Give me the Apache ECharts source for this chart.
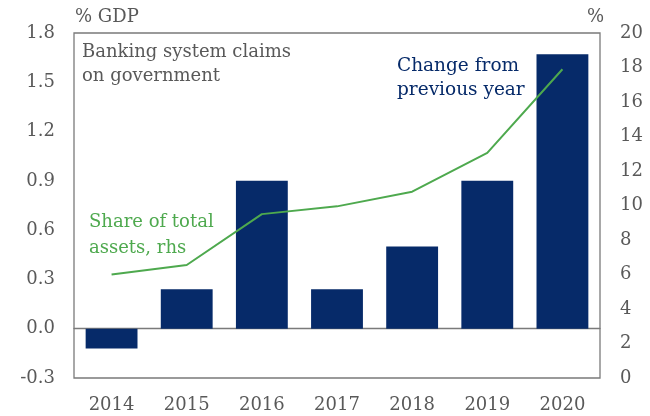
<!DOCTYPE html>
<html>
<head>
<meta charset="utf-8">
<script src="https://cdn.jsdelivr.net/npm/echarts@6/dist/echarts.min.js"></script>
<style>
  html, body { margin: 0; padding: 0; background: #fff; }
  #chart { width: 650px; height: 416px; }
</style>
</head>
<body>
<div id="chart"></div>
<script>
// Banking system claims on government, % GDP change (bars) and share of total assets (line, rhs)
const years = ['2014', '2015', '2016', '2017', '2018', '2019', '2020'];
const changeFromPrevYear = [-0.12, 0.24, 0.90, 0.24, 0.50, 0.90, 1.67];
const shareOfAssets = [6.0, 6.55, 9.5, 9.95, 10.8, 13.05, 17.9];
const leftTicks = { min: -0.3, max: 1.8, interval: 0.3 };
const rightTicks = { min: 0, max: 20, interval: 2 };

const FONT = 'DejaVu Serif';
const GREY = '#595959';
const NAVY = '#062a69';
const GREEN = '#4ea94e';

const chart = echarts.init(document.getElementById('chart'));
chart.setOption({
  animation: false,
  textStyle: { fontFamily: FONT },
  grid: {
    left: 74, right: 50, top: 33, bottom: 38,
    show: true, borderColor: '#7a7a7a', borderWidth: 1.3, backgroundColor: 'transparent'
  },
  xAxis: {
    type: 'category',
    data: years,
    axisLine: { onZero: true, lineStyle: { color: '#7a7a7a', width: 1.3 } },
    axisTick: { show: false },
    axisLabel: { color: GREY, fontSize: 18, fontFamily: FONT, margin: 18 }
  },
  yAxis: [
    {
      type: 'value',
      min: leftTicks.min, max: leftTicks.max, interval: leftTicks.interval,
      axisLine: { show: false }, axisTick: { show: false }, splitLine: { show: false },
      axisLabel: { color: GREY, fontSize: 18, fontFamily: FONT, margin: 19, formatter: v => v.toFixed(1) }
    },
    {
      type: 'value',
      min: rightTicks.min, max: rightTicks.max, interval: rightTicks.interval,
      axisLine: { show: false }, axisTick: { show: false }, splitLine: { show: false },
      axisLabel: { color: GREY, fontSize: 18, fontFamily: FONT, margin: 20 }
    }
  ],
  series: [
    {
      type: 'bar', data: changeFromPrevYear, yAxisIndex: 0,
      barWidth: '69%', itemStyle: { color: NAVY }, z: 2
    },
    {
      type: 'line', data: shareOfAssets, yAxisIndex: 1,
      symbol: 'none', lineStyle: { color: GREEN, width: 2 }, z: 3
    }
  ],
  graphic: [
    { type: 'text', left: 75, top: 8, style: { text: '% GDP', fill: GREY, font: '18px "DejaVu Serif"' } },
    { type: 'text', left: 587, top: 8, style: { text: '%', fill: GREY, font: '18px "DejaVu Serif"' } },
    { type: 'text', left: 82, top: 40, style: { text: 'Banking system claims\non government', fill: GREY, font: '18px "DejaVu Serif"', lineHeight: 24 } },
    { type: 'text', left: 397, top: 54, style: { text: 'Change from\nprevious year', fill: NAVY, font: '18.5px "DejaVu Serif"', lineHeight: 24 } },
    { type: 'text', left: 89, top: 209, style: { text: 'Share of total\nassets, rhs', fill: GREEN, font: '18px "DejaVu Serif"', lineHeight: 26 } }
  ]
});
</script>
</body>
</html>
